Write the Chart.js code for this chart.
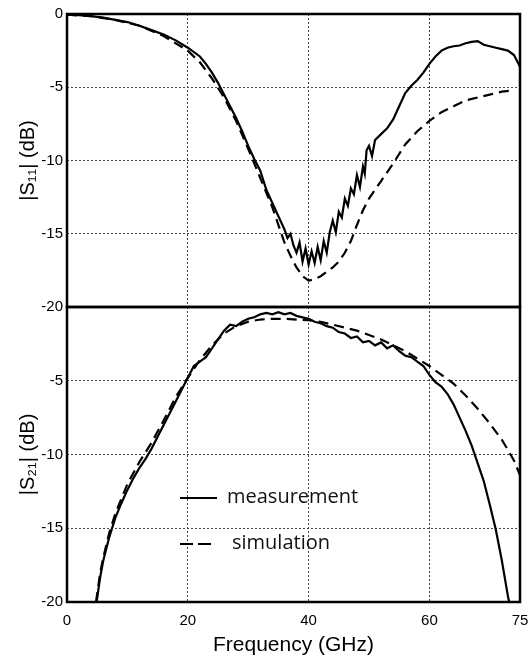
<!DOCTYPE html>
<html>
<head>
<meta charset="utf-8">
<script src="https://cdn.jsdelivr.net/npm/chart.js@4.4.1/dist/chart.umd.min.js"></script>
<style>
  html, body { margin: 0; padding: 0; background: #fff; }
  #wrap { position: relative; width: 531px; height: 656px; }
  #wrap canvas { position: absolute; left: 0; }
  #s11Chart { top: 0; }
  #s21Chart { top: 297px; }
</style>
</head>
<body>
<div id="wrap">
  <canvas id="s11Chart" width="531" height="330"></canvas>
  <canvas id="s21Chart" width="531" height="359"></canvas>
</div>
<script>
(() => {
  // |S11|
  const s11MeasFreq = [0, 2, 4, 6, 8, 10, 12, 14, 16, 18, 20, 22, 23, 24, 25, 26, 27, 28, 29, 30, 31, 32, 33, 34, 35, 36, 36.5, 37,
    37.5, 38, 38.5, 39, 39.5, 40, 40.5, 41, 41.5, 42, 42.5, 43, 43.5, 44, 44.5, 45, 45.5, 46, 46.5, 47, 47.5, 48, 48.5,
    49, 49.3, 49.6, 50, 50.5, 51, 52, 53, 54, 55, 56, 57, 58, 59, 60, 61, 62, 63, 64, 65, 66, 67, 68, 69, 70, 71, 72, 73, 74, 75];
  const s11MeasDb = [-0.05, -0.08, -0.15, -0.25, -0.4, -0.55, -0.8, -1.1, -1.4, -1.8, -2.3, -2.9, -3.4, -4.0, -4.7, -5.5, -6.3, -7.1, -8.0, -9.0, -9.9, -10.7, -12.0, -12.9, -13.8, -14.7, -15.3, -15.0,
    -15.8, -16.3, -15.6, -16.9, -16.0, -17.1, -16.2, -17.0, -15.9, -16.8, -15.5, -16.3, -14.9, -14.1, -14.9, -13.5, -13.9, -12.6, -13.1, -11.9, -12.3, -11.0, -11.8,
    -10.4, -10.9, -9.3, -9.0, -9.7, -8.6, -8.2, -7.8, -7.2, -6.3, -5.4, -4.9, -4.5, -4.0, -3.4, -2.9, -2.5, -2.3, -2.2, -2.15, -2.0, -1.9, -1.85, -2.1, -2.2, -2.3, -2.4, -2.5, -2.8, -3.6];
  const s11SimFreq = [0, 4, 8, 12, 16, 20, 22, 24, 26, 28, 30, 32, 34, 36, 37, 38, 39, 40, 41, 42, 44, 45, 46, 47, 48, 49, 50,
    52, 54, 56, 58, 60, 62, 64, 66, 68, 70, 72, 74];
  const s11SimDb = [-0.05, -0.15, -0.4, -0.8, -1.5, -2.5, -3.3, -4.4, -5.7, -7.3, -9.2, -11.2, -13.2, -15.6, -16.5, -17.3, -17.9, -18.2, -18.1, -17.9, -17.3, -16.9, -16.3, -15.5, -14.4, -13.4, -12.6,
    -11.4, -10.2, -8.9, -8.0, -7.3, -6.7, -6.3, -5.9, -5.7, -5.5, -5.3, -5.2];

  // |S21|
  const s21MeasFreq = [4.9, 5.5, 6, 7, 8, 9, 10, 11, 12, 13, 14, 15, 16, 17, 18, 19, 20, 21, 22, 23, 24, 25, 26, 27, 28, 29, 30,
    31, 32, 33, 34, 35, 36, 37, 38, 39, 40, 41, 42, 43, 44, 45, 46, 47, 48, 49, 50, 51, 52, 53, 54, 55, 56, 57, 58, 59, 60,
    61, 62, 63, 64, 65, 66, 67, 68, 69, 70, 71, 72, 73, 73.2];
  const s21MeasDb = [-20, -18.3, -17.2, -15.6, -14.3, -13.3, -12.4, -11.6, -10.9, -10.3, -9.6, -8.8, -8.0, -7.2, -6.4, -5.6, -4.8, -4.0, -3.7, -3.4, -2.8, -2.2, -1.6, -1.2, -1.3, -1.0, -0.8,
    -0.7, -0.5, -0.4, -0.5, -0.35, -0.5, -0.4, -0.6, -0.7, -0.8, -1.0, -1.1, -1.3, -1.4, -1.7, -1.8, -2.1, -2.0, -2.4, -2.3, -2.6, -2.4, -2.8, -2.6, -3.0, -3.3, -3.4, -3.7, -4.0, -4.6,
    -5.1, -5.4, -5.9, -6.6, -7.5, -8.4, -9.4, -10.6, -11.8, -13.4, -15.1, -17.2, -19.6, -20];
  const s21SimFreq = [4.8, 5.5, 6, 7, 8, 10, 12, 14, 16, 18, 20, 22, 24, 26, 28, 30, 32, 34, 36, 38, 40, 42, 44, 46, 48, 50,
    52, 54, 56, 58, 60, 62, 64, 66, 68, 70, 72, 74, 75];
  const s21SimDb = [-20, -18.0, -17.0, -15.3, -14.0, -12.0, -10.5, -9.2, -7.7, -6.1, -4.8, -3.6, -2.6, -1.8, -1.3, -1.0, -0.85, -0.8, -0.8, -0.85, -0.9, -1.0, -1.2, -1.4, -1.6, -1.9,
    -2.2, -2.6, -3.0, -3.5, -4.0, -4.6, -5.2, -6.0, -6.9, -7.9, -9.0, -10.4, -11.4];

  const freqTicks = [0, 20, 40, 60, 75];
  const dbTicks = [0, -5, -10, -15, -20];
  const legendLabels = ['measurement', 'simulation'];

  const pts = (xs, ys) => xs.map((x, i) => ({ x, y: ys[i] }));
  const tickFont = { family: 'Liberation Sans, Arial, sans-serif', size: 15 };
  const titleFont = { family: 'Liberation Sans, Arial, sans-serif', size: 20 };

  const frame = {
    id: 'frame',
    afterDraw(chart) {
      const { ctx, chartArea: a } = chart;
      ctx.save();
      ctx.strokeStyle = '#000';
      ctx.lineWidth = 2.5;
      ctx.strokeRect(a.left, a.top, a.right - a.left, a.bottom - a.top);
      ctx.restore();
    }
  };

  const lineLegend = {
    id: 'lineLegend',
    afterDraw(chart) {
      const { ctx, chartArea: a } = chart;
      const x0 = a.left + 113;
      const rows = [a.top + 191, a.top + 237];
      ctx.save();
      ctx.strokeStyle = '#000';
      ctx.lineWidth = 2.2;
      ctx.font = '20px "Open Sans", sans-serif';
      ctx.fillStyle = '#111';
      ctx.textBaseline = 'middle';
      // solid sample
      ctx.beginPath();
      ctx.moveTo(x0, rows[0]);
      ctx.lineTo(x0 + 37, rows[0]);
      ctx.stroke();
      ctx.fillText(legendLabels[0], x0 + 47, rows[0] - 1);
      // dashed sample
      ctx.setLineDash([13, 5]);
      ctx.beginPath();
      ctx.moveTo(x0, rows[1]);
      ctx.lineTo(x0 + 31, rows[1]);
      ctx.stroke();
      ctx.setLineDash([]);
      ctx.fillText(legendLabels[1], x0 + 52, rows[1] - 1);
      ctx.restore();
    }
  };

  function makeScales(showX, yTitle, hideZero) {
    return {
      x: {
        type: 'linear', min: 0, max: 75,
        afterBuildTicks: s => { s.ticks = freqTicks.map(v => ({ value: v })); },
        afterFit: s => { s.height = showX ? 54 : 0; s.paddingLeft = 0; s.paddingRight = 0; },
        grid: { color: '#444', lineWidth: 1, drawTicks: false },
        border: { display: false, dash: [2, 2] },
        ticks: { display: showX, color: '#000', font: tickFont, padding: 10, maxRotation: 0 },
        title: {
          display: showX, text: 'Frequency (GHz)', color: '#000',
          font: { family: 'Liberation Sans, Arial, sans-serif', size: 21, lineHeight: 1 },
          padding: { top: 0, bottom: 0 }
        }
      },
      y: {
        type: 'linear', min: -20, max: 0,
        afterBuildTicks: s => { s.ticks = dbTicks.map(v => ({ value: v })); },
        afterFit: s => { s.width = 67; s.paddingTop = 0; s.paddingBottom = 0; },
        grid: { color: '#444', lineWidth: 1, drawTicks: false },
        border: { display: false, dash: [2, 2] },
        ticks: {
          color: '#000', font: tickFont, padding: 4,
          callback: v => (hideZero && v === 0 ? '' : String(v))
        },
        title: { display: true, text: yTitle, color: '#000', font: titleFont, padding: { top: 16, bottom: 0 } }
      }
    };
  }

  const lineStyle = (dashed) => ({
    borderColor: '#000', borderWidth: 2.2, pointRadius: 0, tension: 0, fill: false,
    borderDash: dashed ? [10, 6] : []
  });

  new Chart(document.getElementById('s11Chart'), {
    type: 'line',
    data: {
      datasets: [
        { label: 'measurement', data: pts(s11MeasFreq, s11MeasDb), ...lineStyle(false) },
        { label: 'simulation', data: pts(s11SimFreq, s11SimDb), ...lineStyle(true) }
      ]
    },
    options: {
      responsive: false, animation: false, parsing: false,
      layout: { padding: { top: 14, right: 11, bottom: 23, left: 0 } },
      scales: makeScales(false, '|S\u2081\u2081| (dB)', false),
      plugins: { legend: { display: false }, tooltip: { enabled: false } }
    },
    plugins: [frame]
  });

  new Chart(document.getElementById('s21Chart'), {
    type: 'line',
    data: {
      datasets: [
        { label: 'measurement', data: pts(s21MeasFreq, s21MeasDb), ...lineStyle(false) },
        { label: 'simulation', data: pts(s21SimFreq, s21SimDb), ...lineStyle(true) }
      ]
    },
    options: {
      responsive: false, animation: false, parsing: false,
      layout: { padding: { top: 10, right: 11, bottom: 0, left: 0 } },
      scales: makeScales(true, '|S\u2082\u2081| (dB)', true),
      plugins: { legend: { display: false }, tooltip: { enabled: false } }
    },
    plugins: [frame, lineLegend]
  });
})();
</script>
</body>
</html>
